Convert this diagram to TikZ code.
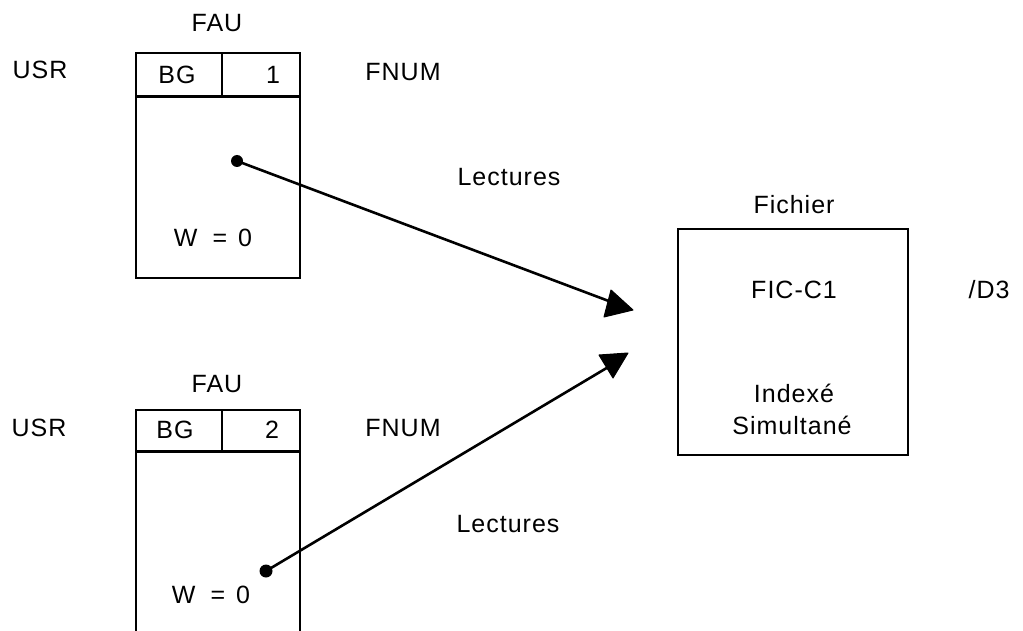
\documentclass[tikz,border=0pt]{standalone}
\usepackage{fontspec}
\setmainfont{Liberation Sans}[LetterSpace=4]
\newcommand{\weq}{W\hspace{15pt}=\hspace{11pt}0}
\begin{document}
\begin{tikzpicture}[x=1pt,y=-1pt,
  lbl/.style={inner sep=0pt,anchor=center,font=\fontsize{25}{29}\selectfont},
  frame/.style={line width=2.4pt},
  conn/.style={line width=2.6pt},
  headarrow/.style={fill=black,draw=black,line width=1pt,line join=round},
  pin/.style={fill=black}]
\useasboundingbox (0,0) rectangle (1023,631);
% ---- upper FAU block
\node[lbl] (fau1) at (217,23) {FAU};
\node[lbl] (usr1) at (40,70) {USR};
\node[lbl] (fnum1) at (403,72) {FNUM};
\draw[frame] (136,53) rectangle (300,278);
\draw[frame,line width=3pt] (136,97) -- (300,97);
\draw[frame] (222,53) -- (222,97);
\node[lbl] (bg1) at (177,75) {BG};
\node[lbl] (n1) at (273,75) {1};
\node[lbl] (w1) at (213,238) {\weq};
\coordinate (d1) at (237,161);
% ---- lower FAU block
\node[lbl] (fau2) at (217,384) {FAU};
\node[lbl] (usr2) at (39,428) {USR};
\node[lbl] (fnum2) at (403,428) {FNUM};
\draw[frame] (136,631) -- (136,410) -- (300,410) -- (300,631);
\draw[frame,line width=3pt] (136,451) -- (300,451);
\draw[frame] (222,410) -- (222,451);
\node[lbl] (bg2) at (175,430) {BG};
\node[lbl] (n2) at (272,430) {2};
\node[lbl] (w2) at (211,595) {\weq};
\coordinate (d2) at (266,571);
% ---- file box
\node[lbl] (fichier) at (794,205) {Fichier};
\draw[frame] (678,229) rectangle (908,455);
\node[lbl] (fic) at (794,290) {FIC-C1};
\node[lbl] (d3) at (989,290) {/D3};
\node[lbl] (idx) at (794,393) {Indexé};
\node[lbl] (sim) at (792,425) {Simultané};
% ---- labels
\node[lbl] (lect1) at (509,177) {Lectures};
\node[lbl] (lect2) at (508,524) {Lectures};
% ---- connectors
\coordinate (e1) at (614,303);
\coordinate (e2) at (610,366);
\draw[conn] (d1) -- (e1);
\draw[conn] (d2) -- (e2);
\fill[pin] (d1) circle (6);
\fill[pin] (d2) circle (6.5);
\draw[headarrow] (633,310) -- (611,290) -- (604,317) -- cycle;
\draw[headarrow] (599,355) -- (628,353) -- (613,378) -- cycle;
\end{tikzpicture}
\end{document}
